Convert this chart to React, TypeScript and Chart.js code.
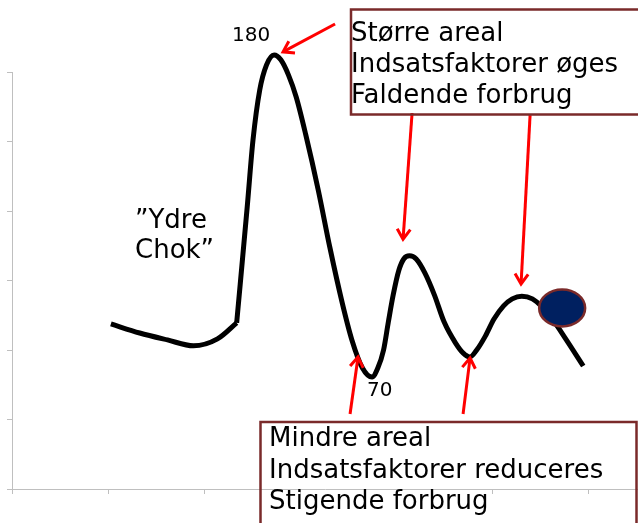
import { useEffect, useRef } from "react";
import { Chart, registerables } from "chart.js";

Chart.register(...registerables);

// Axis ticks (no labels are shown in the reference)
const xTicks = [0, 1, 2, 3, 4, 5, 6];
const yTicks = [0, 20, 40, 60, 80, 100, 120];

// "Ydre chok" lead-in segment
const shockX = [1.03, 1.33, 1.62, 1.89, 2.14, 2.34];
const shockY = [47.5, 44.9, 42.9, 41.2, 43.2, 47.8];

// Cycle after the shock
const cycleX = [2.34, 2.45, 2.51, 2.58, 2.65, 2.73, 2.8, 2.88, 2.96, 3.06, 3.19, 3.31, 3.44, 3.54, 3.65, 3.75, 3.81, 3.87, 3.92, 3.97, 4.03, 4.08, 4.14, 4.21, 4.3, 4.4, 4.5, 4.62, 4.7, 4.77, 4.84, 4.93, 5.02, 5.12, 5.21, 5.31, 5.42, 5.52, 5.64, 5.76, 5.95];
const cycleY = [47.8, 81.2, 100.4, 114.8, 122.0, 124.9, 123.5, 119.1, 112.8, 101.9, 86.0, 69.6, 53.5, 42.9, 34.8, 32.2, 34.8, 40.0, 48.1, 55.8, 63.0, 66.2, 67.1, 66.2, 62.2, 55.8, 48.1, 42.0, 39.1, 38.0, 40.0, 44.0, 48.9, 52.7, 54.7, 55.5, 54.7, 52.4, 48.4, 43.5, 35.4];

// Annotation texts
const peakLabel = "180";
const troughLabel = "70";
const shockLines = ["\u201DYdre", "Chok\u201D"];
const upperBoxLines = ["Større areal", "Indsatsfaktorer øges", "Faldende forbrug"];
const lowerBoxLines = ["Mindre areal", "Indsatsfaktorer reduceres", "Stigende forbrug"];

// Arrows: tails and tips in data units
const arrowTails = [[3.365, 133.8], [4.167, 108.2], [5.396, 107.6], [3.521, 21.6], [4.698, 21.6]];
const arrowTips = [[2.823, 125.8], [4.073, 71.9], [5.302, 59.0], [3.604, 38.0], [4.771, 37.7]];

// Marker (ellipse) position in data units
const markerPoint = [5.73, 52.1];

export default function App() {
  const ref = useRef<HTMLCanvasElement>(null);

  useEffect(() => {
    const canvas = ref.current;
    if (!canvas) return;

    const font = '"DejaVu Sans", Verdana, sans-serif';

    const annot = {
      id: "annot",
      afterDraw(chart: any) {
        const ctx = chart.ctx as CanvasRenderingContext2D;
        const xs = chart.scales.x;
        const ys = chart.scales.y;
        const px = (v: number) => xs.getPixelForValue(v);
        const py = (v: number) => ys.getPixelForValue(v);
        ctx.save();

        // Red arrows
        ctx.strokeStyle = "#ff0000";
        ctx.lineWidth = 3;
        ctx.lineCap = "butt";
        ctx.lineJoin = "miter";
        arrowTips.forEach((tip, i) => {
          const t = arrowTails[i];
          const x1 = px(t[0]), y1 = py(t[1]);
          const x2 = px(tip[0]), y2 = py(tip[1]);
          const ang = Math.atan2(y2 - y1, x2 - x1);
          ctx.beginPath();
          ctx.moveTo(x1, y1);
          ctx.lineTo(x2 - Math.cos(ang) * 2, y2 - Math.sin(ang) * 2);
          ctx.stroke();
          const hl = 12, ha = 0.58;
          ctx.beginPath();
          ctx.moveTo(x2 - hl * Math.cos(ang - ha), y2 - hl * Math.sin(ang - ha));
          ctx.lineTo(x2, y2);
          ctx.lineTo(x2 - hl * Math.cos(ang + ha), y2 - hl * Math.sin(ang + ha));
          ctx.stroke();
        });

        // Ellipse marker
        ctx.beginPath();
        ctx.ellipse(px(markerPoint[0]), py(markerPoint[1]), 23, 18.5, 0, 0, Math.PI * 2);
        ctx.fillStyle = "#002060";
        ctx.fill();
        ctx.strokeStyle = "#7a2a2a";
        ctx.lineWidth = 2.5;
        ctx.stroke();

        // Boxes
        ctx.strokeStyle = "#7a2a2a";
        ctx.lineWidth = 2.5;
        ctx.strokeRect(351, 9.5, 400, 105);
        ctx.strokeRect(260.5, 422, 376, 200);

        // Texts
        ctx.fillStyle = "#000";
        ctx.textBaseline = "alphabetic";
        ctx.textAlign = "left";
        ctx.font = `26px ${font}`;
        upperBoxLines.forEach((s, i) => ctx.fillText(s, 351, 41 + i * 31));
        lowerBoxLines.forEach((s, i) => ctx.fillText(s, 269, 446 + i * 31.5));
        shockLines.forEach((s, i) => ctx.fillText(s, 135, 228 + i * 30));
        ctx.font = `20px ${font}`;
        ctx.fillText(peakLabel, 232, 41);
        ctx.fillText(troughLabel, 367, 396);

        ctx.restore();
      },
    };

    const lineStyle = {
      borderColor: "#000",
      borderWidth: 5,
      pointRadius: 0,
      fill: false,
      cubicInterpolationMode: "monotone" as const,
      clip: false as any,
    };

    const chart = new Chart(canvas, {
      type: "line",
      data: {
        datasets: [
          { ...lineStyle, label: "shock", data: shockX.map((x, i) => ({ x, y: shockY[i] })) },
          { ...lineStyle, label: "cycle", data: cycleX.map((x, i) => ({ x, y: cycleY[i] })) },
        ],
      },
      options: {
        animation: false,
        responsive: false,
        devicePixelRatio: 1,
        layout: { padding: { top: 72, left: 0, right: 0, bottom: 0 } },
        plugins: { legend: { display: false }, tooltip: { enabled: false } },
        scales: {
          x: {
            type: "linear",
            min: 0,
            max: 6.52,
            afterBuildTicks: (s: any) => { s.ticks = xTicks.map((v) => ({ value: v })); },
            afterFit: (s: any) => { s.height = 34; },
            ticks: { display: false },
            grid: { drawOnChartArea: false, drawTicks: true, tickLength: 5, color: "#bfbfbf" },
            border: { display: true, color: "#bfbfbf", width: 1 },
          },
          y: {
            type: "linear",
            min: 0,
            max: 120,
            afterBuildTicks: (s: any) => { s.ticks = yTicks.map((v) => ({ value: v })); },
            afterFit: (s: any) => { s.width = 12; },
            ticks: { display: false },
            grid: { drawOnChartArea: false, drawTicks: true, tickLength: 5, color: "#bfbfbf" },
            border: { display: true, color: "#bfbfbf", width: 1 },
          },
        },
      },
      plugins: [annot],
    });

    return () => chart.destroy();
  }, []);

  return (
    <div style={{ position: "fixed", left: 0, top: 0, width: 638, height: 523 }}>
      <canvas ref={ref} width={638} height={523} style={{ display: "block" }} />
    </div>
  );
}
